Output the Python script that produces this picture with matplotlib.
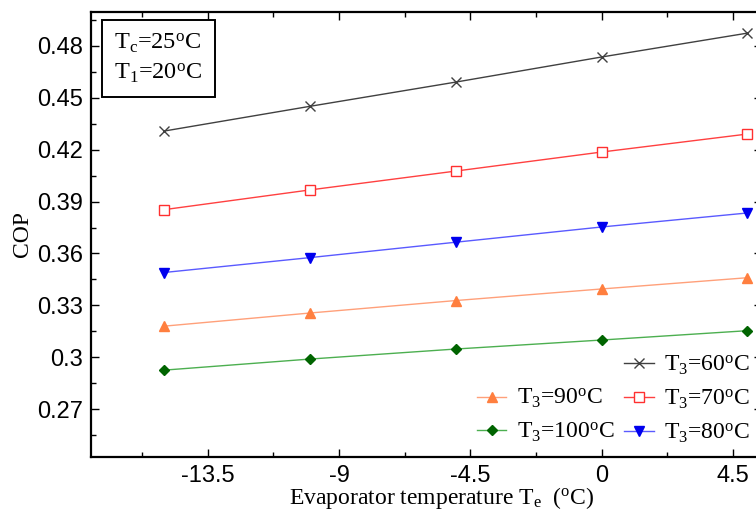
import matplotlib
matplotlib.use("Agg")
import matplotlib.pyplot as plt
from matplotlib.lines import Line2D

plt.rcParams['font.family'] = ['Liberation Serif', 'DejaVu Serif']
plt.rcParams['mathtext.fontset'] = 'custom'
plt.rcParams['mathtext.rm'] = 'Liberation Serif'
plt.rcParams['mathtext.it'] = 'Liberation Serif:italic'
plt.rcParams['savefig.bbox'] = 'standard'

te = [-15, -10, -5, 0, 5]
cop_60 = [0.4307, 0.4450, 0.4590, 0.4735, 0.4873]
cop_70 = [0.3853, 0.3967, 0.4076, 0.4186, 0.4290]
cop_80 = [0.3490, 0.3576, 0.3665, 0.3753, 0.3834]
cop_90 = [0.3180, 0.3256, 0.3328, 0.3395, 0.3460]
cop_100 = [0.2926, 0.2990, 0.3048, 0.3100, 0.3154]

xticks = [-13.5, -9, -4.5, 0, 4.5]
xticklabels = ['-13.5', '-9', '-4.5', '0', '4.5']
yticks = [0.27, 0.30, 0.33, 0.36, 0.39, 0.42, 0.45, 0.48]
yticklabels = ['0.27', '0.3', '0.33', '0.36', '0.39', '0.42', '0.45', '0.48']

xlim = (-17.5, 5.5)
ylim = (0.2426, 0.4995)

fig = plt.figure(figsize=(7.56, 5.16), dpi=100)
ax = fig.add_axes([91/756, (516-456.7)/516, (762-91)/756, (456.7-12)/516])

lw = 1.0
l60, = ax.plot(te, cop_60, color='#404040', lw=lw, marker='x', ms=7, mew=1.0,
               label='T$_3$=60$^{\\rm o}$C')
l70, = ax.plot(te, cop_70, color='#ff4040', lw=lw, marker='s', ms=6.5, mfc='white',
               mec='#ff3030', mew=1.0, label='T$_3$=70$^{\\rm o}$C')
l80, = ax.plot(te, cop_80, color='#5a5aff', lw=lw, marker='v', ms=7.5, mfc='#0000ee',
               mec='#0000ee', label='T$_3$=80$^{\\rm o}$C')
l90, = ax.plot(te, cop_90, color='#ffa07a', lw=lw, marker='^', ms=7.5, mfc='#ff7f3f',
               mec='#ff7f3f', label='T$_3$=90$^{\\rm o}$C')
l100, = ax.plot(te, cop_100, color='#4caf50', lw=lw, marker='D', ms=5, mfc='#006400',
                mec='#006400', label='T$_3$=100$^{\\rm o}$C')

ax.set_xticks(xticks)
ax.set_xticklabels(xticklabels, family='Liberation Sans', fontsize=17)
xminor = [x + 2.25 for x in [-18] + xticks]
ax.set_xticks([x for x in xminor if xlim[0] <= x <= xlim[1]], minor=True)
ax.set_yticks(yticks)
ax.set_yticklabels(yticklabels, family='Liberation Sans', fontsize=17)
yminor = [y + 0.015 for y in [0.24] + yticks]
ax.set_yticks([y for y in yminor if ylim[0] <= y <= ylim[1]], minor=True)
ax.set_xlim(*xlim)
ax.set_ylim(*ylim)
ax.tick_params(which='both', direction='in', top=True, right=True)
ax.tick_params(which='major', length=6, width=1.0, pad=6)
ax.tick_params(which='minor', length=3.5, width=1.0)
for s in ax.spines.values():
    s.set_linewidth(1.6)

ax.set_xlabel('Evaporator temperature T$_{\\rm e}$  ($^{\\rm o}$C)', fontsize=17)
ax.xaxis.set_label_coords(0.523, -0.064)
ax.set_ylabel('COP', fontsize=17, labelpad=3)

ax.text(0.035, 0.955, 'T$_{\\rm c}$=25$^{\\rm o}$C\nT$_1$=20$^{\\rm o}$C', transform=ax.transAxes,
        ha='left', va='top', fontsize=17.5, linespacing=1.35,
        bbox=dict(boxstyle='square,pad=0.5', fc='white', ec='black', lw=1.4))

empty = Line2D([], [], color='none')
handles = [empty, l90, l100, l60, l70, l80]
labels = ['', l90.get_label(), l100.get_label(), l60.get_label(), l70.get_label(), l80.get_label()]
ax.legend(handles, labels, ncol=2, loc='lower right', bbox_to_anchor=(1.0, 0.0),
          frameon=False, fontsize=17, handlelength=1.25, handletextpad=0.45,
          columnspacing=0.4, labelspacing=0.45, borderaxespad=0.1)

fig.savefig('out.png', dpi=100)
